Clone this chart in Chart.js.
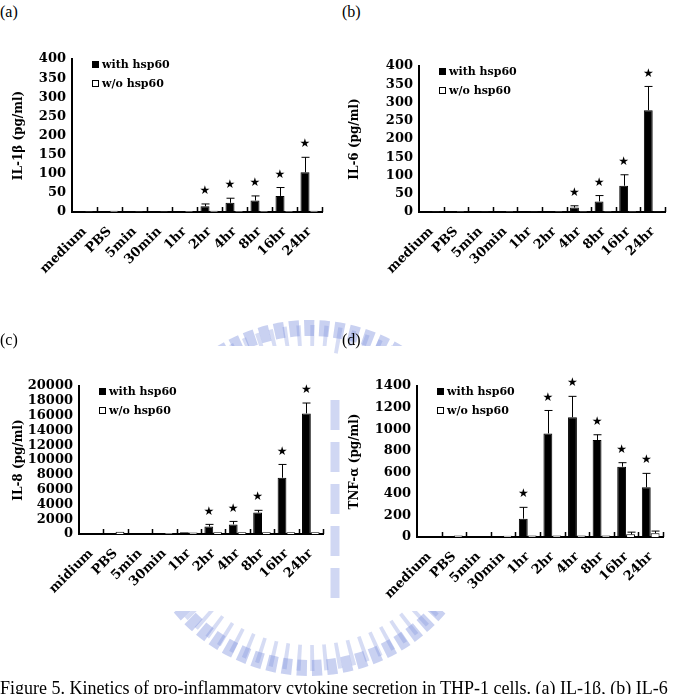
<!DOCTYPE html>
<html>
<head>
<meta charset="utf-8">
<script src="https://cdn.jsdelivr.net/npm/chart.js@4"></script>
<style>
  body { margin: 0; background: #fff; width: 673px; height: 694px; overflow: hidden; position: relative; }
  #wm { position: absolute; left: 0; top: 0; }
  .cover { position: absolute; background: #fff; }
  .panel { position: absolute; }
  .tag { position: absolute; font: 16px "Liberation Serif", serif; color: #000; }
  #caption { position: absolute; left: 0; top: 679px; white-space: nowrap; font: 18px/1 "Liberation Serif", serif; color: #000; }
</style>
</head>
<body>
<canvas id="wm" width="673" height="694"></canvas>
<!-- white figure backgrounds hide most of the watermark, as in the scanned page -->
<div class="cover" style="left:0;top:0;width:673px;height:305px"></div>
<div class="cover" style="left:0;top:346px;width:327px;height:265px"></div>
<div class="cover" style="left:343px;top:346px;width:330px;height:265px"></div>

<div class="tag" style="left:0;top:3px">(a)</div>
<div class="tag" style="left:342px;top:3px">(b)</div>
<div class="tag" style="left:0;top:331px">(c)</div>
<div class="tag" style="left:342px;top:331px">(d)</div>

<div class="panel" style="left:0;top:0;width:336px;height:300px"><canvas id="chartA"></canvas></div>
<div class="panel" style="left:336px;top:0;width:337px;height:300px"><canvas id="chartB"></canvas></div>
<div class="panel" style="left:0;top:330px;width:336px;height:330px"><canvas id="chartC"></canvas></div>
<div class="panel" style="left:336px;top:330px;width:337px;height:330px"><canvas id="chartD"></canvas></div>

<div id="caption">Figure 5. Kinetics of pro-inflammatory cytokine secretion in THP-1 cells. (a) IL-1&beta;, (b) IL-6</div>

<script>
var categories = ["medium", "PBS", "5min", "30min", "1hr", "2hr", "4hr", "8hr", "16hr", "24hr"];
// panel (c) is labelled "midium" in the original figure
var categoriesC = ["midium", "PBS", "5min", "30min", "1hr", "2hr", "4hr", "8hr", "16hr", "24hr"];

// (a) IL-1beta
var il1With = [0, 0, 0, 0, 2, 15, 24, 30, 42, 104];
var il1WithErr = [0, 0, 0, 0, 0, 6, 12, 12, 22, 39];
var il1Without = [1, 3, 1, 1, 2, 3, 2, 2, 2, 3];
var il1Sig = [0, 0, 0, 0, 0, 1, 1, 1, 1, 1];

// (b) IL-6
var il6With = [0, 0, 0, 0, 0, 2, 12, 29, 72, 279];
var il6WithErr = [0, 0, 0, 0, 0, 0, 5, 16, 30, 65];
var il6Without = [1, 2, 1, 2, 1, 2, 2, 2, 2, 1];
var il6Sig = [0, 0, 0, 0, 0, 0, 1, 1, 1, 1];

// (c) IL-8
var il8With = [0, 0, 0, 150, 250, 1000, 1300, 2900, 7600, 16300];
var il8WithErr = [0, 0, 0, 0, 0, 300, 400, 300, 1800, 1400];
var il8Without = [0, 300, 0, 150, 200, 250, 250, 250, 250, 250];
var il8Sig = [0, 0, 0, 0, 0, 1, 1, 1, 1, 1];

// (d) TNF-alpha
var tnfWith = [0, 0, 0, 10, 170, 960, 1110, 899, 652, 461];
var tnfWithErr = [0, 0, 0, 0, 105, 213, 194, 49, 37, 129];
var tnfWithout = [0, 15, 0, 12, 15, 15, 15, 15, 25, 35];
var tnfWithoutErr = [0, 0, 0, 0, 0, 0, 0, 0, 20, 20];
var tnfSig = [0, 0, 0, 0, 1, 1, 1, 1, 1, 1];

var FONT = '"DejaVu Serif", serif';

// faint page watermark (pixel-gear ring), mostly hidden behind the figures
(function () {
  var c = document.getElementById("wm").getContext("2d");
  c.strokeStyle = "rgba(120,140,220,0.4)";
  c.lineWidth = 16;
  c.setLineDash([10, 5]);
  c.beginPath();
  c.arc(310, 498, 170, 0, Math.PI * 2);
  c.stroke();
  c.strokeStyle = "rgba(120,140,220,0.3)";
  c.lineWidth = 26;
  c.setLineDash([4, 9]);
  c.beginPath();
  c.arc(310, 498, 160, 0, Math.PI * 2);
  c.stroke();
  c.strokeStyle = "rgba(120,140,220,0.35)";
  c.lineWidth = 9;
  c.setLineDash([30, 12]);
  c.beginPath();
  c.moveTo(335, 400);
  c.lineTo(335, 610);
  c.stroke();
})();

// error bars (upward only), stars, small up-ticks on the x axis, legend inside the plot
var extrasPlugin = {
  id: "extras",
  afterDatasetsDraw: function (chart) {
    var ctx = chart.ctx;
    var ys = chart.scales.y;
    var xs = chart.scales.x;
    var ex = chart.options.plugins.extras;
    var area = chart.chartArea;
    ctx.save();
    ctx.strokeStyle = "#000";
    ctx.fillStyle = "#000";
    ctx.lineWidth = 1;
    chart.data.datasets.forEach(function (ds, di) {
      var errs = ds.errors;
      if (!errs) return;
      var meta = chart.getDatasetMeta(di);
      meta.data.forEach(function (bar, i) {
        if (!errs[i]) return;
        var topY = ys.getPixelForValue(ds.data[i] + errs[i]);
        var x = Math.round(bar.x) + 0.5;
        ctx.beginPath();
        ctx.moveTo(x, bar.y);
        ctx.lineTo(x, topY);
        ctx.moveTo(x - 4, topY);
        ctx.lineTo(x + 4, topY);
        ctx.stroke();
      });
    });
    // stars over the "with" bars
    var ds0 = chart.data.datasets[0];
    var meta0 = chart.getDatasetMeta(0);
    ctx.font = '12px "DejaVu Sans"';
    ctx.textAlign = "center";
    ctx.textBaseline = "middle";
    ex.sig.forEach(function (s, i) {
      if (!s) return;
      var e = ds0.errors ? ds0.errors[i] : 0;
      var topY = ys.getPixelForValue(ds0.data[i] + e);
      ctx.fillText("\u2605", meta0.data[i].x, topY - 13);
    });
    // small upward ticks between categories
    var n = chart.data.labels.length;
    var step = (xs.right - xs.left) / n;
    ctx.lineWidth = 1.5;
    ctx.beginPath();
    for (var k = 1; k <= n; k++) {
      var tx = Math.round(xs.left + k * step) + 0.5;
      ctx.moveTo(tx, xs.top);
      ctx.lineTo(tx, xs.top - 5);
    }
    ctx.stroke();
    // legend
    ctx.font = "bold 11px " + FONT;
    ctx.textAlign = "left";
    ctx.lineWidth = 1;
    chart.data.datasets.forEach(function (ds, di) {
      var bx = Math.round(area.left + 20);
      var by = Math.round(area.top + 5 + di * 19);
      ctx.fillStyle = ds.backgroundColor;
      ctx.fillRect(bx, by - 3, 7, 7);
      ctx.strokeStyle = "#000";
      ctx.strokeRect(bx + 0.5, by - 2.5, 6, 6);
      ctx.fillStyle = "#000";
      ctx.fillText(ds.label, bx + 10, by + 1);
    });
    ctx.restore();
  }
};

function makeChart(id, labels, yTitle, withVals, withErr, withoutVals, withoutErr, sig, yMax, yStep, pad, yWidth, xHeight) {
  var ctx = document.getElementById(id).getContext("2d");
  return new Chart(ctx, {
    type: "bar",
    data: {
      labels: labels,
      datasets: [
        {
          label: "with hsp60",
          data: withVals,
          errors: withErr,
          backgroundColor: "#000",
          borderColor: "#000",
          borderWidth: 1,
          categoryPercentage: 0.72,
          barPercentage: 1.0
        },
        {
          label: "w/o hsp60",
          data: withoutVals,
          errors: withoutErr,
          backgroundColor: "#fff",
          borderColor: "#000",
          borderWidth: 1,
          categoryPercentage: 0.72,
          barPercentage: 1.0
        }
      ]
    },
    options: {
      responsive: true,
      maintainAspectRatio: false,
      animation: false,
      layout: { padding: pad },
      plugins: {
        legend: { display: false },
        tooltip: { enabled: false },
        extras: { sig: sig }
      },
      scales: {
        x: {
          grid: { display: false },
          border: { display: true, color: "#000", width: 2 },
          ticks: {
            autoSkip: false,
            minRotation: 45,
            maxRotation: 45,
            padding: 4,
            color: "#000",
            font: { family: FONT, weight: "bold", size: 13 }
          },
          afterFit: function (s) { s.height = xHeight; }
        },
        y: {
          min: 0,
          max: yMax,
          grid: { display: false, drawTicks: false },
          border: { display: true, color: "#000", width: 2 },
          ticks: {
            stepSize: yStep,
            autoSkip: false,
            padding: 6,
            color: "#000",
            font: { family: FONT, weight: "bold", size: 13 },
            callback: function (v) { return String(v); }
          },
          title: {
            display: true,
            text: yTitle,
            color: "#000",
            padding: { top: 12, bottom: 0 },
            font: { family: FONT, weight: "bold", size: 12 }
          },
          afterFit: function (s) { s.width = yWidth; }
        }
      }
    },
    plugins: [extrasPlugin]
  });
}

makeChart("chartA", categories, "IL-1\u03b2 (pg/ml)", il1With, il1WithErr, il1Without, null, il1Sig,
  400, 50, { top: 59, right: 14, left: 0, bottom: 0 }, 72, 88);
makeChart("chartB", categories, "IL-6 (pg/ml)", il6With, il6WithErr, il6Without, null, il6Sig,
  400, 50, { top: 66, right: 8, left: 0, bottom: 0 }, 83, 88);
makeChart("chartC", categoriesC, "IL-8 (pg/ml)", il8With, il8WithErr, il8Without, null, il8Sig,
  20000, 2000, { top: 56, right: 13, left: 0, bottom: 0 }, 79, 126);
makeChart("chartD", categories, "TNF-\u03b1 (pg/ml)", tnfWith, tnfWithErr, tnfWithout, tnfWithoutErr, tnfSig,
  1400, 200, { top: 56, right: 10, left: 0, bottom: 0 }, 81, 123);
</script>
</body>
</html>
